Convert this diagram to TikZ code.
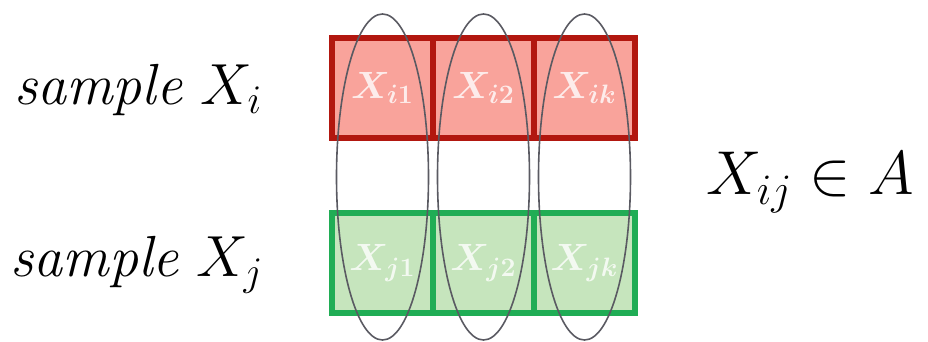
\RequirePackage{fix-cm}
\documentclass[tikz,border=0pt]{standalone}
\usepackage{amsmath, amssymb}
\usepackage{bm}
\usepackage{tikz}
\usetikzlibrary{positioning}

\definecolor{redfill}{HTML}{F9A39B}
\definecolor{redline}{HTML}{B2170F}
\definecolor{greenfill}{HTML}{C6E5BD}
\definecolor{greenline}{HTML}{20AD55}
\definecolor{ringgray}{HTML}{5A5A62}

\tikzset{
  cell/.style={minimum width=50.5pt, minimum height=50pt, inner sep=0pt,
    line width=3pt, text=white, text opacity=0.8,
    font=\fontsize{19}{22}\selectfont},
  redcell/.style={cell, draw=redline, fill=redfill},
  greencell/.style={cell, draw=greenline, fill=greenfill},
  ring/.style={draw=ringgray, line width=0.8pt},
  lbl/.style={inner sep=0pt, font=\fontsize{29}{34}\selectfont}
}

\begin{document}
\begin{tikzpicture}[x=0.5pt, y=-0.5pt]
  \useasboundingbox (0,0) rectangle (928,342);
  % sample X_i
  \node[redcell] (ci1) at (382.5,88) {$\bm{X_{i1}}$};
  \node[redcell] (ci2) at (483.5,88) {$\bm{X_{i2}}$};
  \node[redcell] (cik) at (584.5,88) {$\bm{X_{ik}}$};
  % sample X_j
  \node[greencell] (cj1) at (382.5,263) {$\bm{X_{j1}}$};
  \node[greencell] (cj2) at (483.5,263) {$\bm{X_{j2}}$};
  \node[greencell] (cjk) at (584.5,263) {$\bm{X_{jk}}$};
  % pairs
  \draw[ring] (382.5,177) ellipse [x radius=46, y radius=163];
  \draw[ring] (483.5,177) ellipse [x radius=46, y radius=163];
  \draw[ring] (584.5,177) ellipse [x radius=46, y radius=163];
  % labels
  \node[lbl, anchor=base west] (lbli) at (14,105) {\textit{sample} $X_i$};
  \node[lbl, anchor=base west] (lblj) at (10,277) {\textit{sample} $X_j$};
  \node[lbl, anchor=base west, font=\fontsize{31}{36}\selectfont] (memb) at (706,195) {$X_{ij}\in A$};
\end{tikzpicture}
\end{document}
